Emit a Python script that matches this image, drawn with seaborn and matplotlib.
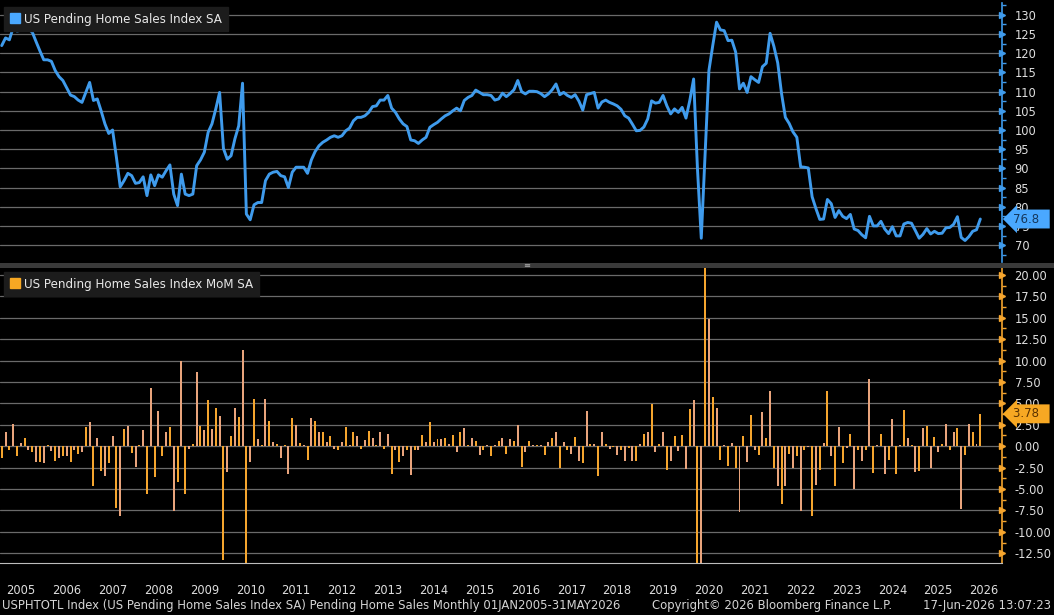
import numpy as np
import pandas as pd
import matplotlib
matplotlib.use("Agg")
import matplotlib.pyplot as plt
import seaborn as sns
from matplotlib.patches import Patch, Rectangle
from matplotlib.ticker import MultipleLocator, FuncFormatter

# US Pending Home Sales Index SA, monthly Jan 2005 - May 2026
index_sa = [
    122.0, 124.0, 123.5, 126.7, 125.8, 126.0, 127.0, 126.3, 125.5, 123.0, 120.6, 118.3,  # 2005
    118.3, 117.9, 115.5, 113.9, 112.9, 111.0, 109.1, 108.7, 107.8, 107.2, 109.8, 112.4,  # 2006
    107.7, 108.1, 105.0, 101.6, 99.1, 100.0, 92.9, 85.2, 86.8, 88.7, 88.1, 86.1,         # 2007
    86.3, 87.8, 82.9, 88.3, 85.5, 88.3, 87.7, 89.4, 90.9, 83.3, 80.3, 88.5,              # 2008
    83.3, 82.9, 83.3, 90.7, 92.2, 94.2, 99.4, 101.6, 105.5, 109.8, 95.2, 92.4,           # 2009
    93.3, 97.7, 101.1, 112.2, 78.1, 76.6, 80.5, 81.1, 81.1, 86.8, 88.5, 89.0,            # 2010
    89.2, 88.1, 87.8, 85.0, 89.0, 90.3, 90.3, 90.3, 88.7, 92.2, 94.4, 95.9,              # 2011
    96.8, 97.4, 98.1, 98.5, 98.1, 98.5, 99.8, 100.5, 102.4, 103.3, 103.3, 103.7,         # 2012
    104.6, 106.1, 106.3, 107.8, 107.8, 109.0, 105.7, 104.6, 102.9, 101.6, 100.9, 97.4,   # 2013
    97.2, 96.5, 97.4, 98.1, 100.7, 101.4, 102.0, 102.9, 103.7, 104.2, 105.0, 105.7,      # 2014
    105.0, 107.7, 108.5, 109.0, 110.4, 109.8, 109.2, 109.2, 109.0, 107.8, 108.1, 109.6,  # 2015
    108.7, 109.5, 110.5, 112.9, 110.0, 109.4, 110.1, 110.1, 110.0, 109.5, 108.7, 109.4,  # 2016
    110.5, 112.0, 109.2, 109.8, 109.0, 108.5, 109.2, 107.5, 105.2, 109.2, 109.5, 109.8,  # 2017
    105.7, 107.3, 107.8, 107.2, 106.8, 106.3, 105.4, 103.7, 103.1, 101.5, 99.8, 99.9,    # 2018
    100.8, 102.9, 107.6, 107.0, 107.2, 109.0, 106.3, 104.2, 105.5, 104.6, 105.9, 103.1,  # 2019
    107.7, 113.3, 90.0, 71.8, 93.7, 115.5, 122.0, 128.1, 126.1, 125.9, 123.3, 123.4,     # 2020
    120.3, 110.7, 112.2, 109.8, 113.9, 113.1, 112.4, 116.5, 117.4, 125.2, 121.8, 117.5,  # 2021
    109.5, 103.3, 101.7, 99.5, 98.1, 90.4, 90.3, 90.1, 82.6, 79.5, 76.7, 76.8,           # 2022
    81.9, 80.8, 77.2, 79.0, 77.5, 76.9, 78.0, 74.2, 73.8, 72.7, 71.9, 77.5,              # 2023
    75.0, 75.0, 76.2, 74.2, 73.0, 74.8, 72.4, 72.4, 75.5, 75.9, 75.7, 73.8,              # 2024
    71.8, 72.8, 74.3, 72.9, 73.6, 73.0, 73.1, 74.5, 74.6, 75.4, 77.4, 72.0,              # 2025
    71.2, 72.2, 73.6, 74.0, 76.8,                                                        # 2026
]

# US Pending Home Sales Index MoM SA, %
mom_sa = [
    -1.4, 1.7, -0.4, 2.6, -1.1, 0.4, 1.0, -0.5, -0.7, -1.9, -1.9, -2.0,
    0.1, -0.6, -1.7, -1.4, -1.1, -1.2, -1.9, -0.4, -0.9, -0.7, 2.2, 2.8,
    -4.6, 0.9, -2.9, -3.5, -2.0, 1.2, -7.2, -8.2, 2.0, 2.4, -0.8, -2.4,
    0.1, 1.9, -5.6, 6.8, -3.6, 4.1, -1.2, 1.6, 2.2, -7.6, -4.2, 10.0,
    -5.6, -0.3, 0.3, 8.7, 2.4, 1.9, 5.4, 2.0, 4.5, 3.5, -13.3, -3.0,
    1.2, 4.5, 3.4, 11.2, -30.0, -1.9, 5.5, 0.8, 0.1, 5.5, 3.0, 0.5,
    0.3, -1.4, 0.1, -3.2, 3.3, 2.5, 0.4, 0.1, -1.6, 3.3, 3.0, 1.6,
    1.6, 0.5, 1.2, -0.3, -0.5, 0.5, 2.3, 0.1, 1.7, 1.2, -0.3, 0.7,
    1.8, 0.9, 0.1, 1.7, -0.3, 1.4, -3.2, -0.4, -1.9, -1.2, -0.5, -3.4,
    -0.4, -0.5, 1.3, 0.5, 2.8, 0.5, 0.8, 0.8, 1.0, 0.3, 1.3, -0.7,
    1.6, 2.1, 0.1, 1.0, 0.6, -1.0, -0.4, 0.1, -1.2, 0.1, 0.6, 1.0,
    -0.9, 0.8, 0.6, 2.5, -2.4, -0.7, 0.6, 0.1, 0.1, 0.1, -1.0, 0.5,
    1.0, 1.7, -2.5, 0.5, -0.4, -0.9, 1.1, -1.7, -2.0, 4.1, 0.2, 0.2,
    -3.5, 1.7, 0.2, -0.3, -0.1, -1.0, -0.4, -1.7, -0.2, -1.7, -1.7, 0.3,
    1.4, 1.7, 4.9, -0.7, 0.2, 1.6, -2.8, -1.7, 1.2, -0.6, 1.3, -2.7,
    4.4, 5.4, -20.8, -21.8, 44.3, 14.8, 5.7, 4.5, -1.6, 0.1, -2.3, 0.4,
    -2.5, -7.7, 1.2, -1.9, 3.7, -0.5, -1.0, 4.0, 0.9, 6.5, -2.5, -4.6,
    -6.7, -4.7, -0.9, -2.6, -1.1, -7.6, -0.4, -0.1, -8.2, -4.5, -2.8, 0.4,
    6.4, -1.2, -4.7, 2.3, -2.0, -0.2, 1.4, -5.0, -0.5, -1.7, -0.5, 7.8,
    -3.1, 0.1, 1.4, -3.2, -1.6, 3.2, -3.3, 0.1, 4.2, 1.0, 0.1, -3.0,
    -2.9, 2.1, 2.4, -2.5, 1.1, -0.7, 0.2, 2.6, -0.4, 1.7, 2.1, -7.3,
    -1.0, 2.6, 1.7, 0.3, 3.78,
]

years = list(range(2005, 2027))
last_index = "76.8"
last_mom = "3.78"

BLUE = "#3f9bec"
ORANGE = "#f5a52e"
SALMON = "#e9a47c"
GRID = "#6a6a6a"
TXT = "#dedede"

dates = pd.date_range("2005-01-31", periods=len(index_sa), freq="ME")
df = pd.DataFrame({"date": dates, "index": index_sa, "mom": mom_sa})
df["t"] = df["date"].dt.year + df["date"].dt.month / 12.0
df["shade"] = np.where(np.arange(len(df)) % 2 == 0, "a", "b")

sns.set_style("dark")
plt.rcParams["font.family"] = ["DejaVu Sans"]

fig = plt.figure(figsize=(10.54, 6.15), dpi=100, facecolor="black")
ax1 = fig.add_axes([0, 0.574, 0.9507, 0.4211])
ax2 = fig.add_axes([0, 0.0846, 0.9507, 0.4796])

sns.lineplot(data=df, x="t", y="index", ax=ax1, color=BLUE, linewidth=2.1)
sns.barplot(data=df, x="t", y="mom", hue="shade", palette=[ORANGE, SALMON],
            native_scale=True, dodge=False, width=0.52, legend=False,
            errorbar=None, saturation=1, linewidth=0, ax=ax2)

xmin, xmax = 2005.046, 2026.89
for ax, col in [(ax1, BLUE), (ax2, ORANGE)]:
    ax.set_facecolor("black")
    ax.set_xlim(xmin, xmax)
    ax.set_xlabel("")
    ax.set_ylabel("")
    ax.grid(False)
    ax.yaxis.grid(True, which="major", color=GRID, linewidth=0.9)
    ax.set_axisbelow(True)
    for s in ["left", "top", "bottom"]:
        ax.spines[s].set_visible(False)
    ax.spines["right"].set_color(col)
    ax.spines["right"].set_linewidth(1.2)
    ax.yaxis.tick_right()
    ax.tick_params(axis="y", which="major", length=0, pad=9, labelsize=8.3,
                   labelcolor=TXT)
    ax.tick_params(axis="y", which="minor", length=3, width=1, color=col)

# top panel
ax1.set_ylim(65.6, 133.1)
ax1.set_yticks(np.arange(70, 131, 5))
ax1.yaxis.set_minor_locator(MultipleLocator(2.5))
ax1.set_xticks([])
ax1.plot([1.0] * len(ax1.get_yticks()), ax1.get_yticks(), ls="none", marker=">",
         ms=4, color=BLUE, transform=ax1.get_yaxis_transform(), clip_on=False)

# bottom panel
ax2.set_ylim(-13.63, 20.8)
ax2.set_yticks(np.arange(-12.5, 20.01, 2.5))
ax2.yaxis.set_minor_locator(MultipleLocator(1.25))
ax2.yaxis.set_major_formatter(FuncFormatter(lambda v, p: f"{v:.2f}"))
ax2.plot([1.0] * len(ax2.get_yticks()), ax2.get_yticks(), ls="none", marker=">",
         ms=4, color=ORANGE, transform=ax2.get_yaxis_transform(), clip_on=False)
ax2.spines["bottom"].set_visible(True)
ax2.spines["bottom"].set_color("#bdbdbd")
ax2.set_xticks([y + 0.5 for y in years])
ax2.set_xticklabels([str(y) for y in years])
ax2.set_xticks(years[1:], minor=True)
ax2.tick_params(axis="x", which="major", length=0, pad=15, labelsize=8.3,
                labelcolor=TXT)
ax2.tick_params(axis="x", which="minor", length=25, width=1, color="#8c8c8c",
                direction="out")

# legends
leg_kw = dict(loc="upper left", frameon=True, facecolor="#1c1c1c", edgecolor="#1c1c1c",
              framealpha=1, fancybox=False, fontsize=8.6, labelcolor="#e8e8e8",
              handlelength=0.9, handleheight=0.9, handletextpad=0.35,
              borderpad=0.45, borderaxespad=0.35)
ax1.legend(handles=[Patch(color="#4aa8ff", label="US Pending Home Sales Index SA")], **leg_kw)
ax2.legend(handles=[Patch(color="#f7a823", label="US Pending Home Sales Index MoM SA")], **leg_kw)

# last value tags (sit over the axis labels, as on the terminal)
ax1.annotate(last_index + "  ", xy=(1.0, float(last_index)), xycoords=ax1.get_yaxis_transform(),
             xytext=(8, 0), textcoords="offset points", ha="left", va="center",
             fontsize=8.5, color="#15375c", annotation_clip=False,
             bbox=dict(boxstyle="larrow,pad=0.25", fc="#4aa8ff", ec="none"))
ax2.annotate(last_mom + "  ", xy=(1.0, float(last_mom)), xycoords=ax2.get_yaxis_transform(),
             xytext=(8, 0), textcoords="offset points", ha="left", va="center",
             fontsize=8.5, color="#5a3200", annotation_clip=False,
             bbox=dict(boxstyle="larrow,pad=0.25", fc="#f7a823", ec="none"))

# panel divider
fig.add_artist(Rectangle((0, 1 - 268 / 615), 1, 5.5 / 615, transform=fig.transFigure,
                         fc="#3a3a3a", ec="none"))
fig.text(0.5, 1 - 265.5 / 615, "\u2261", color="#b0b0b0", fontsize=6, ha="center", va="center")

# footer
fy = 1 - 606 / 615
fig.text(2 / 1054, fy, "USPHTOTL Index (US Pending Home Sales Index SA) Pending Home Sales Monthly 01JAN2005-31MAY2026",
         color="#d4d4d4", fontsize=8.4, ha="left", va="center")
fig.text(652 / 1054, fy, "Copyright\u00a9 2026 Bloomberg Finance L.P.",
         color="#d4d4d4", fontsize=8.4, ha="left", va="center")
fig.text(1051 / 1054, fy, "17-Jun-2026 13:07:23",
         color="#d4d4d4", fontsize=8.4, ha="right", va="center")

fig.savefig("out.png", dpi=100, facecolor="black")
